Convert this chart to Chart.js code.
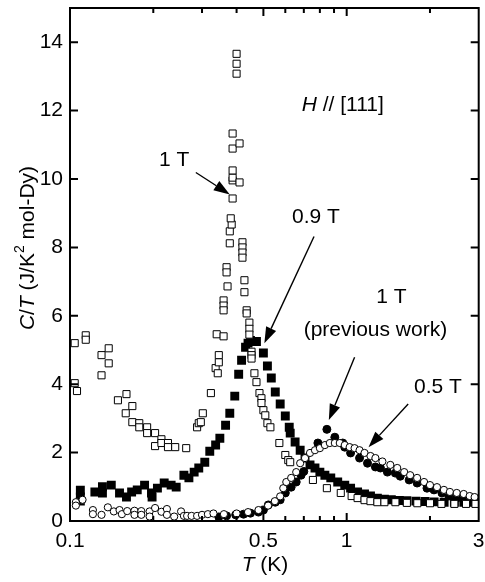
<!DOCTYPE html>
<html>
<head>
<meta charset="utf-8">
<script src="https://cdn.jsdelivr.net/npm/chart.js@4.4.1/dist/chart.umd.min.js"></script>
<style>
  html, body { margin: 0; padding: 0; background: #fff; }
</style>
</head>
<body>
<canvas id="chart" width="485" height="582"></canvas>
<script>
// ====== Data (T in K, C/T in J/K^2 mol-Dy) ======
// 1 T, open squares
const t1T = [0.104, 0.114, 0.114, 0.104, 0.106, 0.130, 0.138, 0.138, 0.130, 0.149, 0.160, 0.168, 0.159, 0.168,
  0.178, 0.178, 0.190, 0.190, 0.203, 0.203, 0.214, 0.214, 0.226, 0.226, 0.240, 0.263,
  0.288, 0.292, 0.297, 0.302, 0.323, 0.336, 0.342, 0.345, 0.345, 0.339, 0.359, 0.359, 0.359, 0.359,
  0.368, 0.368, 0.371, 0.378, 0.378, 0.384, 0.381, 0.387, 0.387, 0.387, 0.387, 0.387, 0.387, 0.410, 0.410,
  0.400, 0.400, 0.400,
  0.420, 0.420, 0.420, 0.420, 0.427, 0.427, 0.435, 0.435, 0.445, 0.445, 0.445, 0.453, 0.453, 0.453,
  0.464, 0.472, 0.484, 0.492, 0.492, 0.500, 0.508, 0.517, 0.530, 0.571, 0.600, 0.615, 0.625,
  0.755, 0.848, 0.952, 1.042, 1.095, 1.160, 1.219, 1.291, 1.369, 1.50, 1.65, 1.80, 2.00, 2.20, 2.45, 2.70, 2.92];
const c1T = [5.20, 5.43, 5.30, 4.03, 3.80, 4.85, 5.05, 4.61, 4.26, 3.53, 3.71, 3.36, 3.15, 2.89,
  2.86, 2.74, 2.74, 2.57, 2.57, 2.19, 2.39, 2.28, 2.28, 2.16, 2.16, 2.13,
  2.74, 2.86, 2.89, 3.15, 3.74, 4.47, 4.32, 4.85, 4.64, 5.46, 5.40, 6.45, 6.30, 6.16,
  7.42, 7.27, 6.86, 8.12, 8.47, 8.67, 8.85, 9.43, 9.96, 10.04, 10.25, 10.89, 11.33, 11.04, 9.90,
  13.08, 13.37, 13.66,
  8.15, 8.00, 7.85, 7.70, 7.04, 6.69, 6.16, 6.07, 5.80, 5.62, 5.45, 4.95, 4.85, 4.75,
  4.32, 4.06, 3.74, 3.59, 3.45, 3.24, 3.09, 2.86, 2.74, 2.28, 1.93, 1.78, 1.72,
  1.20, 0.96, 0.82, 0.73, 0.67, 0.61, 0.58, 0.55, 0.55, 0.55, 0.53, 0.52, 0.52, 0.50, 0.50, 0.50, 0.50];

// 0.9 T, filled squares
const t09T = [0.109, 0.109, 0.109, 0.123, 0.131, 0.131, 0.141, 0.151, 0.160, 0.167, 0.175, 0.186, 0.197, 0.198,
  0.207, 0.219, 0.232, 0.242, 0.258, 0.269, 0.281, 0.292, 0.307, 0.320, 0.336, 0.348, 0.365, 0.378,
  0.394, 0.407, 0.417, 0.431, 0.440, 0.449, 0.472, 0.500, 0.517, 0.534, 0.552, 0.575, 0.600, 0.620,
  0.625, 0.651, 0.679, 0.707, 0.737, 0.768, 0.800, 0.834, 0.876, 0.928, 0.984, 1.033, 1.095, 1.160,
  1.219, 1.291, 1.369, 1.45, 1.55, 1.65, 1.78, 1.92, 2.07, 2.25, 2.45, 2.65, 2.85, 2.97];
const c09T = [0.90, 0.70, 0.58, 0.85, 1.00, 0.82, 1.05, 0.82, 0.70, 0.85, 0.91, 1.05, 0.82, 0.70,
  0.96, 1.11, 1.05, 0.99, 1.34, 1.26, 1.43, 1.55, 1.72, 2.04, 2.22, 2.42, 2.80, 3.15,
  3.65, 4.29, 4.70, 5.08, 5.20, 5.28, 5.25, 4.91, 4.53, 4.18, 3.77, 3.42, 3.07, 2.74,
  2.57, 2.31, 2.07, 1.84, 1.64, 1.55, 1.43, 1.34, 1.26, 1.14, 1.05, 0.96, 0.85, 0.79,
  0.73, 0.67, 0.64, 0.62, 0.60, 0.59, 0.58, 0.57, 0.56, 0.55, 0.55, 0.55, 0.55, 0.56];

// 0.5 T, open circles
const t05T = [0.105, 0.105, 0.111, 0.121, 0.121, 0.130, 0.137, 0.144, 0.151, 0.154, 0.161, 0.171, 0.171,
  0.181, 0.181, 0.194, 0.194, 0.203, 0.214, 0.224, 0.224, 0.238, 0.252, 0.258, 0.265, 0.275, 0.288,
  0.300, 0.315, 0.330, 0.36, 0.40, 0.44, 0.48, 0.52, 0.55,
  0.575, 0.590, 0.605, 0.630, 0.657, 0.679, 0.707, 0.737, 0.768, 0.800, 0.834, 0.869, 0.906, 0.944,
  0.984, 1.025, 1.068, 1.113, 1.160, 1.219, 1.270, 1.346, 1.438, 1.523, 1.614, 1.696, 1.797, 1.904,
  2.000, 2.120, 2.246, 2.360, 2.499, 2.648, 2.782, 2.900];
const c05T = [0.55, 0.45, 0.62, 0.32, 0.20, 0.18, 0.40, 0.28, 0.32, 0.20, 0.29, 0.30, 0.18,
  0.29, 0.18, 0.28, 0.13, 0.38, 0.27, 0.35, 0.18, 0.13, 0.28, 0.15, 0.15, 0.15, 0.15,
  0.18, 0.20, 0.22, 0.20, 0.22, 0.26, 0.32, 0.45, 0.58,
  0.72, 0.96, 1.14, 1.26, 1.43, 1.69, 1.84, 1.99, 2.07, 2.13, 2.22, 2.28, 2.28, 2.28,
  2.22, 2.16, 2.13, 2.07, 1.99, 1.90, 1.84, 1.74, 1.64, 1.55, 1.43, 1.34, 1.26, 1.14,
  1.05, 0.99, 0.91, 0.85, 0.82, 0.79, 0.73, 0.70];

// 1 T (previous work), filled circles
const tPrev = [0.345, 0.368, 0.397, 0.424, 0.449, 0.480, 0.500, 0.521, 0.552, 0.575, 0.600, 0.630, 0.657,
  0.684, 0.700, 0.787, 0.848, 0.906, 0.968, 0.984, 1.033, 1.113, 1.189, 1.270, 1.324, 1.403, 1.499,
  1.562, 1.682, 1.797, 1.951, 2.068, 2.209, 2.340, 2.499, 2.670, 2.876];
const cPrev = [0.12, 0.15, 0.18, 0.20, 0.23, 0.26, 0.32, 0.47, 0.55, 0.62, 0.82, 0.99, 1.14,
  1.34, 1.45, 2.28, 2.68, 2.45, 2.28, 2.16, 1.99, 1.84, 1.69, 1.58, 1.55, 1.43, 1.40,
  1.31, 1.20, 1.11, 0.96, 0.91, 0.82, 0.73, 0.67, 0.61, 0.55];

// ====== Axes ======
const xTickValues = [0.1, 0.5, 1, 3];
const xMinorTicks = [0.2, 0.3, 0.4, 0.6, 0.7, 0.8, 0.9, 2];
const yTickValues = [0, 2, 4, 6, 8, 10, 12, 14];

const FONT = "'Liberation Sans', Arial, Helvetica, sans-serif";
const pts = (xs, ys) => xs.map((x, i) => ({ x, y: ys[i] }));

// ====== Helpers for mixed italic / upright text ======
function drawRich(ctx, parts, cx, cy) {
  let w = 0;
  parts.forEach(p => {
    ctx.font = `${p.italic ? 'italic ' : ''}${p.size || 21}px ${FONT}`;
    p.w = ctx.measureText(p.text).width;
    w += p.w;
  });
  let x = cx - w / 2;
  parts.forEach(p => {
    ctx.font = `${p.italic ? 'italic ' : ''}${p.size || 21}px ${FONT}`;
    ctx.fillText(p.text, x, cy - (p.rise || 0));
    x += p.w;
  });
}

function arrow(ctx, x0, y0, x1, y1) {
  const ang = Math.atan2(y1 - y0, x1 - x0);
  const len = 16, half = 5.5;
  const bx = x1 - len * Math.cos(ang), by = y1 - len * Math.sin(ang);
  ctx.beginPath();
  ctx.moveTo(x0, y0);
  ctx.lineTo(bx, by);
  ctx.stroke();
  ctx.beginPath();
  ctx.moveTo(x1, y1);
  ctx.lineTo(bx + half * Math.sin(ang), by - half * Math.cos(ang));
  ctx.lineTo(bx - half * Math.sin(ang), by + half * Math.cos(ang));
  ctx.closePath();
  ctx.fill();
}

// ====== Frame, inward ticks, titles, labels ======
const decorations = {
  id: 'decorations',
  afterDraw(chart) {
    const { ctx, chartArea: a, scales: { x, y } } = chart;
    ctx.save();
    ctx.strokeStyle = '#000';
    ctx.fillStyle = '#000';
    ctx.lineWidth = 2;
    ctx.strokeRect(a.left, a.top, a.right - a.left, a.bottom - a.top);

    ctx.beginPath();
    yTickValues.slice(1).forEach(v => {
      const py = y.getPixelForValue(v);
      ctx.moveTo(a.left, py); ctx.lineTo(a.left + 8, py);
      ctx.moveTo(a.right, py); ctx.lineTo(a.right - 8, py);
    });
    [[0.5, 8], [1, 8]].concat(xMinorTicks.map(v => [v, 5])).forEach(([v, l]) => {
      const px = x.getPixelForValue(v);
      ctx.moveTo(px, a.bottom); ctx.lineTo(px, a.bottom - l);
      ctx.moveTo(px, a.top); ctx.lineTo(px, a.top + l);
    });
    ctx.stroke();

    ctx.textBaseline = 'middle';
    const X = v => x.getPixelForValue(v), Y = v => y.getPixelForValue(v);

    // axis titles
    drawRich(ctx, [{ text: 'T', italic: true }, { text: ' (K)' }], 265, 565);
    ctx.save();
    ctx.translate(28, 248);
    ctx.rotate(-Math.PI / 2);
    drawRich(ctx, [
      { text: 'C', italic: true }, { text: '/' }, { text: 'T', italic: true },
      { text: ' (J/K' }, { text: '2', size: 14, rise: 8 }, { text: ' mol-Dy)' }
    ], 0, 0);
    ctx.restore();

    // labels
    drawRich(ctx, [{ text: 'H', italic: true }, { text: ' // [111]' }], X(0.968), Y(12.15));
    drawRich(ctx, [{ text: '1 T' }], X(0.238), Y(10.54));
    drawRich(ctx, [{ text: '0.9 T' }], X(0.774), Y(8.88));
    drawRich(ctx, [{ text: '1 T' }], X(1.45), Y(6.54));
    drawRich(ctx, [{ text: '(previous work)' }], X(1.27), Y(5.58));
    drawRich(ctx, [{ text: '0.5 T' }], X(2.136), Y(3.91));

    ctx.lineWidth = 1.4;
    arrow(ctx, X(0.285), Y(10.19), X(0.378), Y(9.55));
    arrow(ctx, X(0.762), Y(8.32), X(0.504), Y(5.20));
    arrow(ctx, X(1.068), Y(4.79), X(0.862), Y(2.95));
    arrow(ctx, X(1.668), Y(3.42), X(1.199), Y(2.16));
    ctx.restore();
  }
};

new Chart(document.getElementById('chart'), {
  type: 'scatter',
  data: {
    datasets: [
      { label: '1 T', data: pts(t1T, c1T), pointStyle: 'rect', pointRadius: 5,
        backgroundColor: '#fff', borderColor: '#000', borderWidth: 1 },
      { label: '0.5 T', data: pts(t05T, c05T), pointStyle: 'circle', pointRadius: 3.6,
        backgroundColor: '#fff', borderColor: '#000', borderWidth: 1 },
      { label: '1 T (previous work)', data: pts(tPrev, cPrev), pointStyle: 'circle', pointRadius: 4,
        backgroundColor: '#000', borderColor: '#000', borderWidth: 1 },
      { label: '0.9 T', data: pts(t09T, c09T), pointStyle: 'rect', pointRadius: 6.3,
        backgroundColor: '#000', borderColor: '#000', borderWidth: 0 }
    ]
  },
  options: {
    responsive: false,
    animation: false,
    devicePixelRatio: 1,
    events: [],
    layout: { padding: { top: 8, right: 3, left: 0, bottom: 0 } },
    plugins: { legend: { display: false }, tooltip: { enabled: false } },
    scales: {
      x: {
        type: 'logarithmic',
        min: 0.1, max: 3,
        grid: { display: false, drawTicks: false },
        border: { display: false },
        ticks: { color: '#000', font: { family: FONT, size: 21 }, padding: 8, maxRotation: 0,
          autoSkip: false, callback: v => String(v) },
        afterBuildTicks: s => { s.ticks = xTickValues.map(v => ({ value: v })); },
        afterFit: s => { s.height = 61; s.paddingLeft = 0; s.paddingRight = 0; }
      },
      y: {
        min: 0, max: 15,
        grid: { display: false, drawTicks: false },
        border: { display: false },
        ticks: { color: '#000', font: { family: FONT, size: 21 }, padding: 7, autoSkip: false },
        afterBuildTicks: s => { s.ticks = yTickValues.map(v => ({ value: v })); },
        afterFit: s => { s.width = 70; s.paddingTop = 0; s.paddingBottom = 0; }
      }
    }
  },
  plugins: [decorations]
});
</script>
</body>
</html>
